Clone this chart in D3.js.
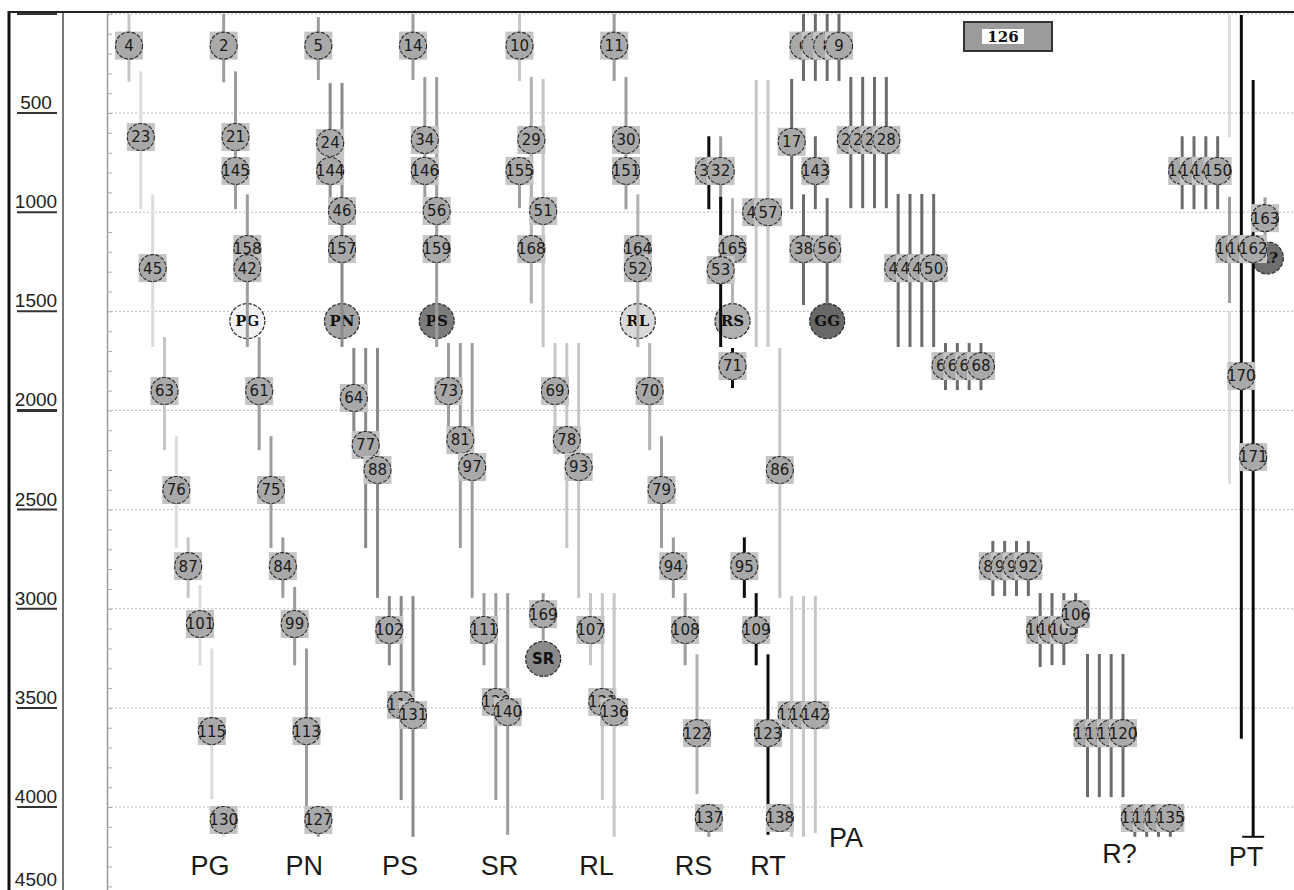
<!DOCTYPE html>
<html>
<head>
<meta charset="utf-8">
<script src="https://cdn.jsdelivr.net/npm/d3@7"></script>
<style>
  body { margin: 0; background: #fff; }
  svg { display: block; }
</style>
</head>
<body>
<script>
// Depth ticks
const yTicks = [0, 500, 1000, 1500, 2000, 2500, 3000, 3500, 4000, 4500];
const minorTicks = d3.range(0, 4501, 100);

// Small nodes: [lane, depth, label]
const nodes = [
  [0, 160, '4'], [8, 160, '2'], [16, 160, '5'], [24, 160, '14'], [33, 160, '10'], [41, 160, '11'],
  [57, 160, '6'], [58, 160, '7'], [59, 160, '8'], [60, 160, '9'],
  [1, 621, '23'], [9, 621, '21'], [17, 651, '24'], [25, 636, '34'], [34, 636, '29'], [42, 636, '30'],
  [56, 645, '17'], [61, 636, '25'], [62, 636, '26'], [63, 636, '27'], [64, 636, '28'],
  [9, 792, '145'], [17, 792, '144'], [25, 792, '146'], [33, 792, '155'], [42, 792, '151'],
  [49, 792, '31'], [50, 792, '32'], [58, 792, '143'],
  [89, 792, '147'], [90, 792, '148'], [91, 792, '149'], [92, 792, '150'],
  [18, 994, '46'], [26, 994, '56'], [35, 994, '51'], [53, 1000, '44'], [54, 1000, '57'], [96, 1030, '163'],
  [10, 1186, '158'], [18, 1186, '157'], [26, 1186, '159'], [34, 1186, '168'], [43, 1186, '164'],
  [51, 1186, '165'], [57, 1186, '38'], [59, 1186, '56'],
  [93, 1186, '160'], [94, 1186, '161'], [95, 1186, '162'],
  [2, 1282, '45'], [10, 1282, '42'], [43, 1282, '52'], [50, 1292, '53'],
  [65, 1282, '47'], [66, 1282, '48'], [67, 1282, '49'], [68, 1282, '50'],
  [51, 1776, '71'], [69, 1776, '65'], [70, 1776, '66'], [71, 1776, '67'], [72, 1776, '68'], [94, 1826, '170'],
  [3, 1902, '63'], [11, 1902, '61'], [19, 1937, '64'], [27, 1902, '73'], [36, 1902, '69'], [44, 1902, '70'],
  [20, 2174, '77'], [28, 2149, '81'], [37, 2149, '78'],
  [21, 2300, '88'], [29, 2285, '97'], [38, 2285, '93'], [55, 2300, '86'], [95, 2235, '171'],
  [4, 2401, '76'], [12, 2401, '75'], [45, 2401, '79'],
  [5, 2785, '87'], [13, 2785, '84'], [46, 2785, '94'], [52, 2785, '95'],
  [73, 2785, '89'], [74, 2785, '90'], [75, 2785, '91'], [76, 2785, '92'],
  [35, 3027, '169'],
  [6, 3077, '101'], [14, 3077, '99'], [22, 3107, '102'], [30, 3107, '111'], [39, 3107, '107'],
  [47, 3107, '108'], [53, 3107, '109'], [77, 3107, '103'], [78, 3107, '104'], [79, 3107, '105'], [80, 3027, '106'],
  [23, 3485, '116'], [24, 3536, '131'], [31, 3470, '126'], [32, 3521, '140'], [40, 3470, '121'], [41, 3521, '136'],
  [56, 3536, '124'], [57, 3536, '141'], [58, 3536, '142'],
  [7, 3617, '115'], [15, 3617, '113'], [48, 3627, '122'], [54, 3627, '123'],
  [81, 3627, '117'], [82, 3627, '118'], [83, 3627, '119'], [84, 3627, '120'],
  [8, 4065, '130'], [16, 4065, '127'], [49, 4055, '137'], [55, 4055, '138'],
  [85, 4055, '132'], [86, 4055, '133'], [87, 4055, '134'], [88, 4055, '135']
];

// Hub nodes: [lane, depth, label]
const hubs = [
  [10, 1549, 'PG'], [18, 1549, 'PN'], [26, 1549, 'PS'], [43, 1549, 'RL'],
  [51, 1549, 'RS'], [59, 1549, 'GG'], [35, 3253, 'SR'], [96.2, 1231, 'R?']
];

// Range bars: [lane, fromDepth, toDepth, tone]
const bars = [
  [0, 0, 342, 'light'], [1, 290, 985, 'pale'], [2, 910, 1680, 'pale'], [3, 1630, 2200, 'light'],
  [4, 2130, 2694, 'pale'], [5, 2640, 2945, 'light'], [6, 2880, 3285, 'pale'], [7, 3200, 3960, 'pale'], [8, 4065, 4150, 'pale'],
  [8, 0, 345, 'mid'], [9, 290, 985, 'mid'], [10, 910, 1680, 'mid'], [11, 1630, 2200, 'mid'],
  [12, 2130, 2694, 'mid'], [13, 2640, 2945, 'mid'], [14, 2890, 3285, 'mid'], [15, 3200, 4000, 'mid'], [16, 4065, 4150, 'mid'],
  [16, 16, 333, 'mid'], [17, 349, 975, 'dark'], [18, 349, 1680, 'dark'], [19, 1685, 2200, 'dark'],
  [20, 1685, 2694, 'dark'], [21, 1685, 2945, 'dark'], [22, 2936, 3285, 'dark'], [23, 2936, 3965, 'dark'], [24, 2936, 4150, 'dark'],
  [24, 0, 333, 'mid'], [25, 318, 960, 'mid'], [26, 318, 1680, 'mid'], [27, 1660, 2150, 'mid'],
  [28, 1660, 2694, 'mid'], [29, 1660, 2945, 'mid'], [30, 2921, 3285, 'mid'], [31, 2921, 3965, 'mid'], [32, 2921, 4140, 'mid'],
  [33, 0, 338, 'light'], [33, 792, 980, 'mid'], [34, 318, 1460, 'soft'], [35, 328, 1680, 'light'],
  [36, 1660, 2200, 'light'], [37, 1660, 2694, 'light'], [38, 1660, 2945, 'light'], [35, 2921, 3160, 'mid'],
  [39, 2921, 3285, 'light'], [40, 2921, 3965, 'light'], [41, 2921, 4150, 'light'],
  [41, 0, 338, 'mid'], [42, 318, 985, 'mid'], [43, 910, 1680, 'soft'], [44, 1660, 2200, 'soft'],
  [45, 2130, 2694, 'mid'], [46, 2640, 2945, 'mid'], [47, 2921, 3285, 'mid'], [48, 3230, 3935, 'soft'], [49, 4055, 4150, 'mid'],
  [49, 617, 985, 'black'], [50, 617, 985, 'mid'], [50, 923, 1680, 'black'], [51, 929, 1460, 'soft'],
  [53, 333, 1680, 'light'], [54, 333, 1680, 'light'], [51, 1685, 1887, 'black'],
  [52, 2640, 2945, 'black'], [53, 2921, 3285, 'black'], [54, 3230, 4140, 'black'],
  [56, 328, 985, 'deep'], [58, 617, 985, 'deep'], [57, 910, 1468, 'deep'], [59, 929, 1460, 'deep'],
  [55, 1685, 2945, 'light'], [56, 2936, 4150, 'light'], [57, 2936, 4150, 'light'], [58, 2936, 4130, 'light'],
  [57, 0, 338, 'deep'], [58, 0, 338, 'deep'], [59, 0, 338, 'deep'], [60, 0, 338, 'deep'],
  [61, 318, 980, 'deep'], [62, 318, 980, 'deep'], [63, 318, 980, 'deep'], [64, 318, 980, 'deep'],
  [65, 908, 1680, 'deep'], [66, 908, 1680, 'deep'], [67, 908, 1680, 'deep'], [68, 908, 1680, 'deep'],
  [69, 1660, 1897, 'deep'], [70, 1660, 1897, 'deep'], [71, 1660, 1897, 'deep'], [72, 1660, 1897, 'deep'],
  [73, 2658, 2936, 'deep'], [74, 2658, 2936, 'deep'], [75, 2658, 2936, 'deep'], [76, 2658, 2936, 'deep'],
  [77, 2921, 3294, 'deep'], [78, 2921, 3284, 'deep'], [79, 2921, 3284, 'deep'], [80, 2921, 3030, 'deep'],
  [81, 3228, 3950, 'deep'], [82, 3228, 3950, 'deep'], [83, 3228, 3950, 'deep'], [84, 3228, 3950, 'deep'],
  [85, 4055, 4150, 'deep'], [86, 4055, 4150, 'deep'], [87, 4055, 4150, 'deep'], [88, 4055, 4150, 'deep'],
  [89, 617, 985, 'deep'], [90, 617, 985, 'deep'], [91, 617, 985, 'deep'], [92, 617, 985, 'deep'],
  [93, 923, 1458, 'mid'], [96, 925, 1231, 'mid'],
  [93, 5, 621, 'pale'], [93, 1500, 2370, 'pale'],
  [94, 5, 3655, 'black'], [95, 333, 4150, 'black']
];
const caps = [[95, 4150]];

// Track names along the bottom
const groupNames = ['PG', 'PN', 'PS', 'SR', 'RL', 'RS', 'RT', 'PA', 'R?', 'PT'];
const groupLanes = [6.85, 14.8, 22.9, 31.3, 39.5, 47.7, 54.0, 60.6, 83.7, 94.4];
const groupDepths = [4343, 4343, 4343, 4343, 4343, 4343, 4343, 4202, 4282, 4297];

const selectedLabel = '126';

// Styles
const toneColor = {
  pale: '#dcdcdc', light: '#c6c6c6', soft: '#b1b1b1', mid: '#9d9d9d',
  dark: '#8a8a8a', deep: '#6c6c6c', black: '#0c0c0c'
};
const hubFill = {
  'PG': '#f3f3f3', 'PN': '#a3a3a3', 'PS': '#7c7c7c', 'RL': '#d9d9d9',
  'RS': '#b0b0b0', 'GG': '#686868', 'SR': '#8a8a8a', 'R?': '#6e6e6e'
};

const width = 1294;
const height = 890;

const svg = d3.select('body')
  .append('svg')
  .attr('width', width)
  .attr('height', height);

const x = d3.scaleLinear().domain([0, 96]).range([129, 1265]);
const y = d3.scaleLinear().domain([0, 4500]).range([13.9, 906.2]);

// Dotted grid lines
svg.append('g')
  .selectAll('line')
  .data(yTicks)
  .join('line')
  .attr('x1', 107)
  .attr('x2', width)
  .attr('y1', d => y(d))
  .attr('y2', d => y(d))
  .attr('stroke', '#b8b8b8')
  .attr('stroke-dasharray', '2,2');

// Minor tick axis
const minor = svg.append('g')
  .attr('transform', 'translate(107,0)')
  .call(d3.axisRight(y).tickValues(minorTicks).tickSize(5).tickSizeOuter(0).tickFormat(''));
minor.select('.domain').attr('stroke', '#999').attr('stroke-width', 1.5);
minor.selectAll('.tick line').attr('stroke', '#aaa');

// Left frame lines
svg.append('line').attr('x1', 9).attr('x2', 9).attr('y1', 11).attr('y2', height)
  .attr('stroke', '#111').attr('stroke-width', 3);
svg.append('line').attr('x1', 63).attr('x2', 63).attr('y1', 11).attr('y2', height)
  .attr('stroke', '#777').attr('stroke-width', 2);
svg.append('line').attr('x1', 8).attr('x2', width).attr('y1', 12).attr('y2', 12)
  .attr('stroke', '#222').attr('stroke-width', 2);

// Depth labels with underline (the last one is kept inside the window)
const lab = svg.append('g').selectAll('g').data(yTicks).join('g');
lab.append('line')
  .attr('x1', 17).attr('x2', 57)
  .attr('y1', d => y(d)).attr('y2', d => y(d))
  .attr('stroke', '#333')
  .attr('stroke-width', d => d === 2000 ? 3 : 2);
lab.filter(d => d > 0).append('text')
  .attr('x', 36)
  .attr('y', d => Math.min(y(d) - 4, 886))
  .attr('text-anchor', 'middle')
  .attr('font-family', 'Liberation Sans, Arial, sans-serif')
  .attr('font-size', 19)
  .attr('fill', '#222')
  .text(d => d);

// Hub nodes (under the bars)
const hub = svg.append('g').selectAll('g').data(hubs).join('g')
  .attr('transform', d => `translate(${x(d[0])},${y(d[1])})`);
hub.append('circle')
  .attr('r', d => d[2] === 'R?' ? 16 : 17.5)
  .attr('fill', d => hubFill[d[2]])
  .attr('stroke', '#2a2a2a')
  .attr('stroke-width', 1.2)
  .attr('stroke-dasharray', '4,1.5');
hub.append('text')
  .attr('text-anchor', 'middle')
  .attr('dy', '0.36em')
  .attr('font-family', d => d[2] === 'SR' ? 'DejaVu Sans, sans-serif' : 'DejaVu Serif, serif')
  .attr('font-weight', 'bold')
  .attr('font-size', 15)
  .attr('fill', '#111')
  .text(d => d[2]);

// Range bars
svg.append('g').selectAll('line').data(bars).join('line')
  .attr('x1', d => x(d[0])).attr('x2', d => x(d[0]))
  .attr('y1', d => y(d[1])).attr('y2', d => y(d[2]))
  .attr('stroke', d => toneColor[d[3]])
  .attr('stroke-width', 3);

svg.append('g').selectAll('line').data(caps).join('line')
  .attr('x1', d => x(d[0]) - 11).attr('x2', d => x(d[0]) + 11)
  .attr('y1', d => y(d[1])).attr('y2', d => y(d[1]))
  .attr('stroke', '#111').attr('stroke-width', 2);

// Small nodes
const node = svg.append('g').selectAll('g').data(nodes).join('g')
  .attr('transform', d => `translate(${x(d[0])},${y(d[1])})`);
node.append('rect')
  .attr('x', -14).attr('y', -14).attr('width', 28).attr('height', 28)
  .attr('fill', '#c4c4c4');
node.append('circle')
  .attr('r', 13.5)
  .attr('fill', '#a9a9a9')
  .attr('stroke', '#2a2a2a')
  .attr('stroke-width', 1.1)
  .attr('stroke-dasharray', '4,1.5');
node.append('text')
  .attr('text-anchor', 'middle')
  .attr('dy', '0.36em')
  .attr('font-family', 'DejaVu Sans, sans-serif')
  .attr('font-size', 15)
  .attr('fill', '#1a1a1a')
  .text(d => d[2]);

// Selected node box
const box = svg.append('g');
box.append('rect').attr('x', 964).attr('y', 22).attr('width', 88).attr('height', 29)
  .attr('fill', '#9b9b9b').attr('stroke', '#333').attr('stroke-width', 2);
box.append('rect').attr('x', 982).attr('y', 29).attr('width', 42).attr('height', 15)
  .attr('fill', '#fff');
box.append('text').attr('x', 1003).attr('y', 42)
  .attr('text-anchor', 'middle')
  .attr('font-family', 'DejaVu Serif, serif')
  .attr('font-weight', 'bold')
  .attr('font-size', 15)
  .attr('fill', '#111')
  .text(selectedLabel);

// Track names
svg.append('g').selectAll('text').data(groupNames).join('text')
  .attr('x', (d, i) => x(groupLanes[i]))
  .attr('y', (d, i) => y(groupDepths[i]))
  .attr('text-anchor', 'middle')
  .attr('font-family', 'Liberation Sans, Arial, sans-serif')
  .attr('font-size', 27)
  .attr('fill', '#1a1a1a')
  .text(d => d);
</script>
</body>
</html>
